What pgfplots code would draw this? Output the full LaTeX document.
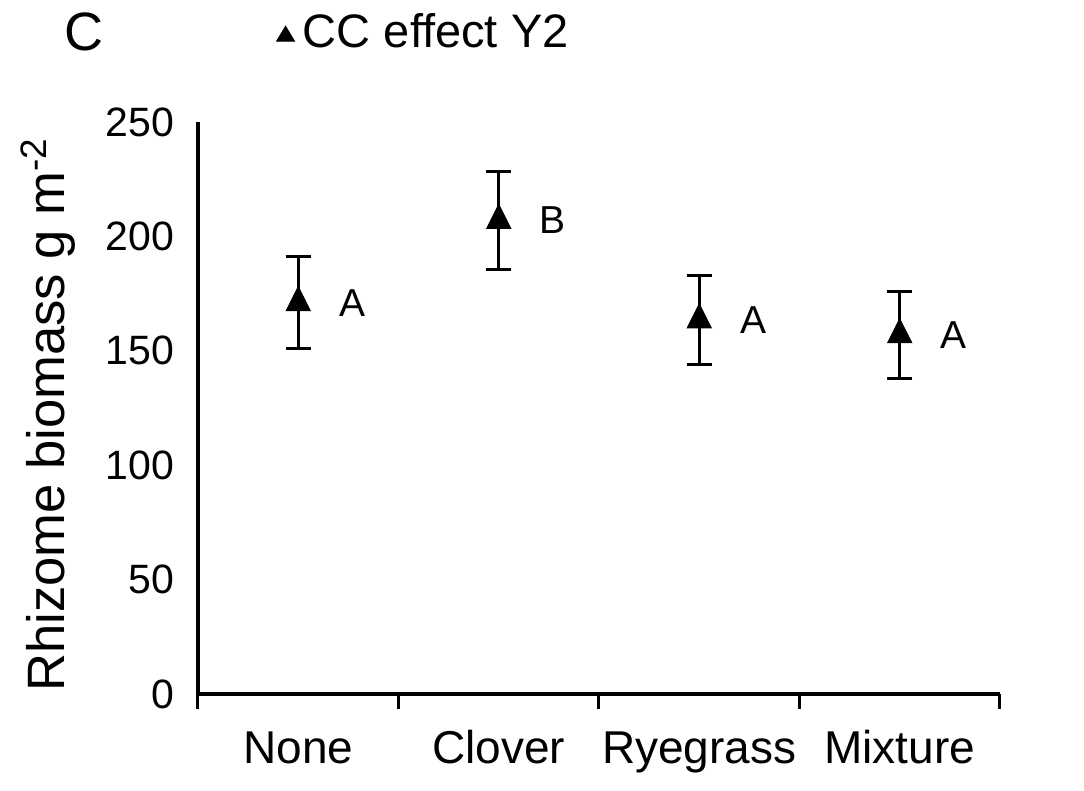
\documentclass[border=0pt]{standalone}
\usepackage{pgfplots}
\pgfplotsset{compat=1.18}
\usepackage{fontspec}
\setmainfont{Liberation Sans}
\begin{document}
\begin{tikzpicture}
\path[use as bounding box] (-99pt,-48.5pt) rectangle (443pt,347pt);
\begin{axis}[
  at={(0,0)}, anchor=south west,
  scale only axis,
  width=401pt, height=286pt,
  xmin=-0.5, xmax=3.5,
  ymin=0, ymax=250,
  axis x line*=bottom, axis y line*=left,
  axis line style={line width=1.6pt, -},
  xtick={-0.5,0.5,1.5,2.5,3.5},
  xticklabels={},
  x tick style={line width=1.5pt, black},
  major tick length=7.5pt,
  tick align=outside,
  extra x ticks={0,1,2,3},
  extra x tick labels={None,Clover,Ryegrass,Mixture},
  extra x tick style={tick style={draw=none}, major tick length=0pt},
  ytick={0,50,100,150,200,250},
  ytick style={draw=none},
  /pgf/number format/assume math mode=true,
  yticklabel style={font=\fontsize{20.5}{24}\selectfont, xshift=-1pt},
  xticklabel style={font=\fontsize{23}{27}\selectfont, yshift=-14pt, text height=17pt, text depth=5pt},
  ylabel={Rhizome biomass g m\textsuperscript{-2}},
  ylabel style={at={(axis description cs:-0.187,0.488)}, anchor=center, font=\fontsize{26.3}{30}\selectfont},
  legend style={draw=none, fill=none, at={(axis description cs:0.097,1.157)}, anchor=west, font=\fontsize{23.5}{27}\selectfont, inner sep=0pt, /tikz/every odd column/.append style={column sep=2pt}},
  legend image code/.code={\fill[black] (0pt,-4.5pt) -- (9pt,-4.5pt) -- (4.5pt,3pt) -- cycle;},
  clip=false,
]
\addplot[only marks, mark=triangle*, mark size=7pt, mark options={black, fill=black, yscale=1.15},
  error bars/.cd, y dir=both, y explicit, error bar style={line width=1.5pt, black},
  error mark options={rotate=90, mark size=6.25pt, line width=1.5pt, black}]
  table[x=x, y=y, y error=e] {
x y e
0 171 20
1 207 21.5
2 163.5 19.5
3 157 19
};
\addlegendentry{CC effect Y2}
\addplot[only marks, mark=none, nodes near coords={\pgfplotspointmeta}, point meta=explicit symbolic,
  nodes near coords style={anchor=center, xshift=27pt, font=\fontsize{19.5}{22}\selectfont, black}]
  table[x=x, y=y, meta=l] {
x y l
0 171 A
1 207 B
2 163.5 A
3 157 A
};
\node[font=\fontsize{27}{30}\selectfont, anchor=center] at (axis description cs:-0.142,1.157) {C};
\end{axis}
\end{tikzpicture}
\end{document}
